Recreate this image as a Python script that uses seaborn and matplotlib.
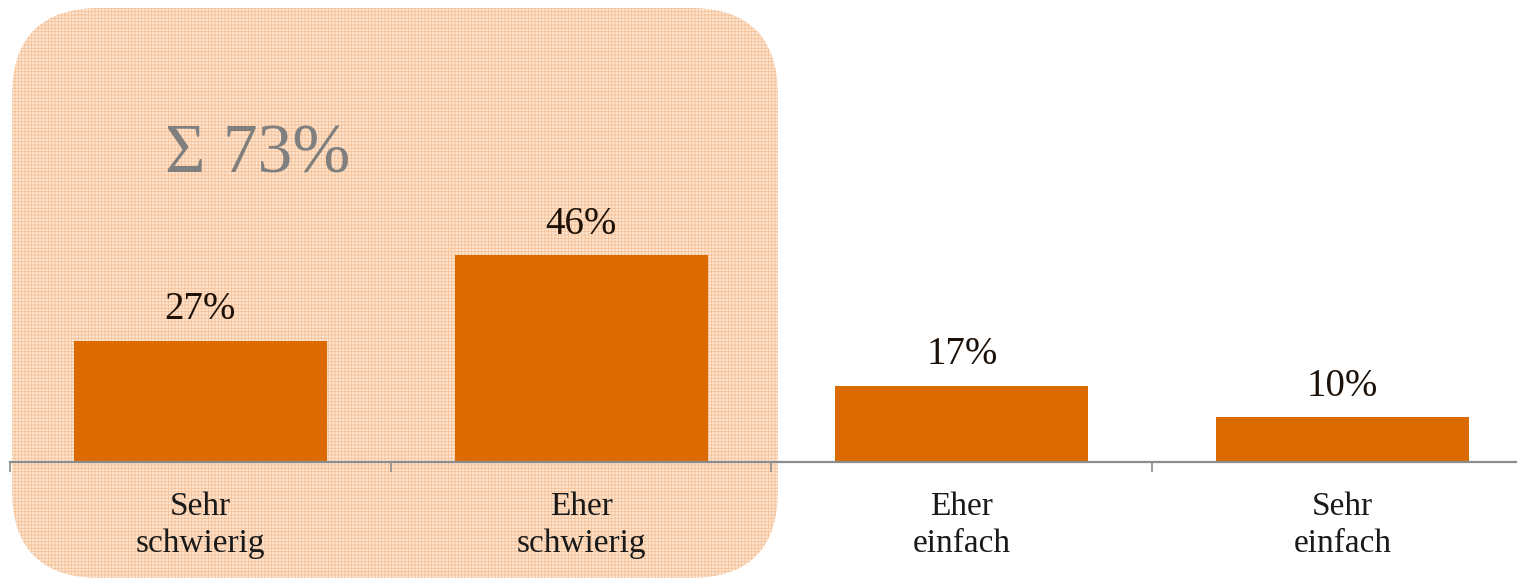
import pandas as pd
import numpy as np
import matplotlib.pyplot as plt
import matplotlib.transforms as mtransforms
from matplotlib.patches import FancyBboxPatch
import seaborn as sns

# data
categories = ["Sehr\nschwierig", "Eher\nschwierig", "Eher\neinfach", "Sehr\neinfach"]
values = [27, 46, 17, 10]
sum_label = "Σ 73%"

df = pd.DataFrame({"cat": categories, "val": values})

sns.set_style("white")
plt.rcParams['font.family'] = ['Liberation Serif', 'DejaVu Serif']
plt.rcParams['hatch.linewidth'] = 0.6

fig = plt.figure(figsize=(15.17, 5.79), dpi=100)

# rounded highlight box behind the first two categories (pixel coords)
box = FancyBboxPatch((12, 1), 766, 570, boxstyle="round,pad=0,rounding_size=88",
                     transform=mtransforms.IdentityTransform(),
                     facecolor="#FCE6D3", edgecolor="none", zorder=0)
fig.add_artist(box)
grid = FancyBboxPatch((12, 1), 766, 570, boxstyle="round,pad=0,rounding_size=88",
                      transform=mtransforms.IdentityTransform(),
                      facecolor="none", edgecolor="#F6C095", hatch="+++++",
                      linewidth=0, zorder=0)
fig.add_artist(grid)

ax = fig.add_axes([10 / 1517, 117 / 579, 1523 / 1517, 462 / 579])
ax.patch.set_alpha(0)

sns.barplot(data=df, x="cat", y="val", color="#DB6A00", saturation=1,
            width=0.665, linewidth=0, ax=ax, zorder=2)

ax.bar_label(ax.containers[0], labels=[f"{v}%" for v in values],
             padding=9, fontsize=28, color="#1E1208")

ax.text(0.15, 68, sum_label, fontsize=50, color="#7F7F7F",
        ha="center", va="center")

ax.set_xlim(-0.5, 3.5)
ax.set_ylim(0, 462 / 4.5)
ax.set_xlabel("")
ax.set_ylabel("")
ax.set_yticks([])
for s in ["top", "right", "left"]:
    ax.spines[s].set_visible(False)
ax.spines["bottom"].set_color("#8C8C8C")
ax.spines["bottom"].set_linewidth(1.6)

ax.set_xticks(range(len(categories)))
ax.set_xticklabels(categories, fontsize=24, color="#1A1A1A", linespacing=1.3)
ax.tick_params(axis="x", which="major", length=0, pad=21, bottom=True)
ax.set_xticks([-0.5, 0.5, 1.5, 2.5], minor=True)
ax.tick_params(axis="x", which="minor", length=7, width=1.2, color="#8C8C8C",
               bottom=True)

fig.savefig("out.png", dpi=100)
